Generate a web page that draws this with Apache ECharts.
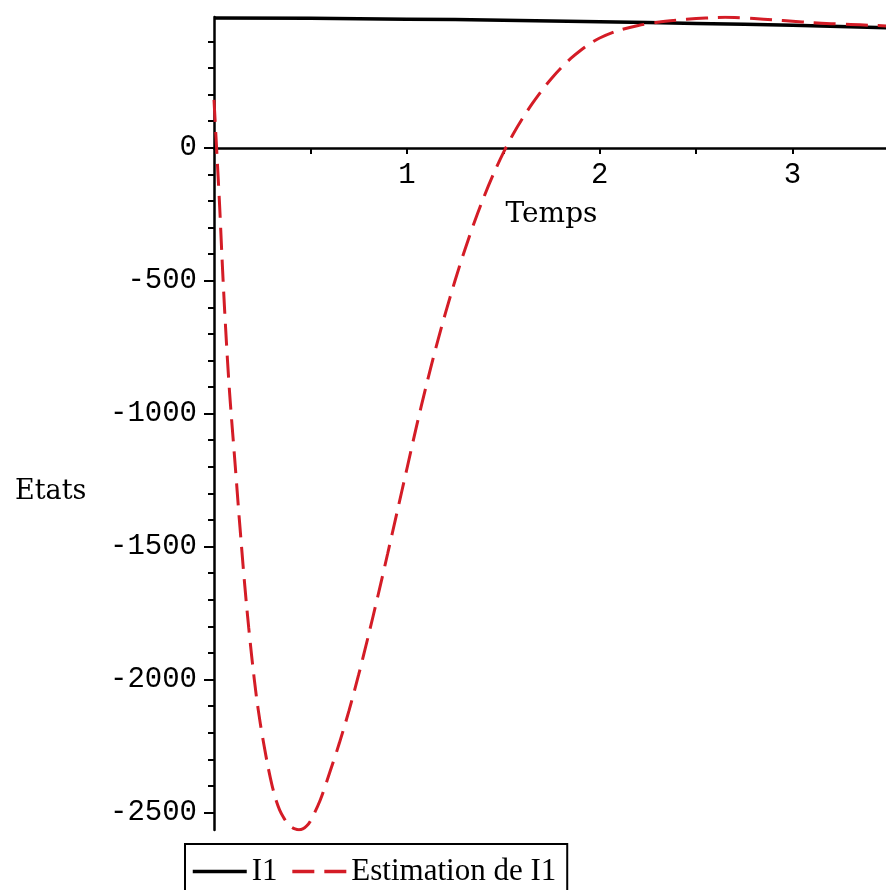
<!DOCTYPE html>
<html>
<head>
<meta charset="utf-8">
<script src="https://cdn.jsdelivr.net/npm/echarts/dist/echarts.min.js"></script>
<style>html,body{margin:0;padding:0;background:#fff;}#c{width:886px;height:890px;}</style>
</head>
<body>
<div id="c"></div>
<script>
// Values
var trueTimes = [0, 0.5, 1, 1.5, 2, 2.5, 3, 3.5];
var trueValues = [488, 487, 484, 480, 474, 468, 461, 451];

var estTimes = [0, 0.01, 0.02, 0.03, 0.04, 0.05, 0.06, 0.07, 0.08, 0.09, 0.10, 0.11, 0.12, 0.13, 0.14, 0.15, 0.16, 0.17, 0.18, 0.19, 0.20, 0.22, 0.24, 0.26, 0.28, 0.30, 0.32, 0.34, 0.36, 0.38, 0.40, 0.42, 0.44, 0.46, 0.48, 0.50, 0.55, 0.60, 0.65, 0.70, 0.75, 0.80, 0.85, 0.90, 0.95, 1.00, 1.05, 1.10, 1.15, 1.20, 1.25, 1.30, 1.35, 1.40, 1.45, 1.50, 1.55, 1.60, 1.65, 1.70, 1.75, 1.80, 1.85, 1.90, 1.95, 2.00, 2.10, 2.20, 2.30, 2.40, 2.50, 2.60, 2.65, 2.70, 2.80, 2.90, 3.00, 3.10, 3.20, 3.30, 3.40, 3.50];
var estValues = [180, 45, -90, -230, -390, -540, -675, -800, -912, -1010, -1102, -1195, -1290, -1385, -1475, -1565, -1650, -1730, -1805, -1875, -1943, -2065, -2165, -2250, -2328, -2395, -2450, -2490, -2518, -2540, -2554, -2562, -2565, -2562, -2551, -2532, -2455, -2350, -2239, -2117, -1982, -1837, -1685, -1528, -1368, -1208, -1048, -896, -754, -622, -499, -385, -280, -184, -97, -19, 50, 111, 166, 216, 261, 301, 336, 366, 392, 413, 442, 460, 472, 480, 486, 490, 491, 490, 486, 481, 476, 471, 467, 464, 461, 458];

var yMajor = [0, -500, -1000, -1500, -2000, -2500];
var yMinor = [400, 300, 200, 100, -100, -200, -300, -400, -600, -700, -800, -900, -1100, -1200, -1300, -1400, -1600, -1700, -1800, -1900, -2100, -2200, -2300, -2400];
var xTicks = [0.5, 1, 1.5, 2, 2.5, 3, 3.5];
var xLabels = [1, 2, 3];

var seriesNames = ['I1', 'Estimation de I1'];
var xName = 'Temps';
var yName = 'Etats';

function pairs(xs, ys) { return xs.map(function (x, i) { return [x, ys[i]]; }); }

var Y_MIN = -2566, Y_MAX = 492;
var chart = echarts.init(document.getElementById('c'), null, {renderer: 'canvas'});
var labelFont = {fontFamily: 'Liberation Mono', fontSize: 29, color: '#000'};
var plain = function (v) { return String(v); };
chart.setOption({
  animation: false,
  backgroundColor: '#fff',
  grid: {left: 214, right: -3, top: 17, bottom: 60, containLabel: false, outerBoundsMode: 'none'},
  xAxis: {
    type: 'value', min: 0, max: 3.5, position: 'bottom', offset: -682,
    name: xName, nameLocation: 'middle', nameGap: 53,
    nameTextStyle: {fontFamily: 'DejaVu Serif', fontSize: 28, color: '#000'},
    axisLine: {onZero: false, lineStyle: {color: '#000', width: 2.5}},
    axisTick: {show: true, length: 6, lineStyle: {color: '#000', width: 2}, customValues: xTicks},
    axisLabel: Object.assign({margin: 13, customValues: xLabels, formatter: plain}, labelFont),
    splitLine: {show: false}
  },
  yAxis: [{
    type: 'value', min: Y_MIN, max: Y_MAX,
    axisLine: {show: true, onZero: false, lineStyle: {color: '#000', width: 2.5}},
    axisTick: {show: true, length: 10, lineStyle: {color: '#000', width: 2}, customValues: yMajor},
    axisLabel: Object.assign({margin: 17, customValues: yMajor, formatter: plain}, labelFont),
    splitLine: {show: false}
  }, {
    type: 'value', min: Y_MIN, max: Y_MAX, position: 'left',
    axisLine: {show: false},
    axisTick: {show: true, length: 6, lineStyle: {color: '#000', width: 2}, customValues: yMinor},
    axisLabel: {show: false},
    splitLine: {show: false}
  }],
  legend: {
    left: 185, top: 844,
    data: [
      {name: seriesNames[0], itemStyle: {opacity: 0}, lineStyle: {color: '#000', width: 3.5, type: 'solid'}},
      {name: seriesNames[1], itemStyle: {opacity: 0}, lineStyle: {color: '#d41c26', width: 3.5, type: [22, 10]}}
    ],
    itemWidth: 54, itemHeight: 14, itemGap: 13,
    padding: [12, 11, 14, 6],
    borderColor: '#000', borderWidth: 2, backgroundColor: '#fff',
    textStyle: {fontFamily: 'Liberation Serif', fontSize: 31, color: '#000'}
  },
  graphic: [{
    type: 'text', left: 15, top: 478,
    style: {text: yName, font: '27px "DejaVu Serif"', fill: '#000'}
  }],
  series: [{
    name: seriesNames[0], type: 'line', symbol: 'none', smooth: true,
    data: pairs(trueTimes, trueValues),
    lineStyle: {color: '#000', width: 3.5}, itemStyle: {color: '#000'}
  }, {
    name: seriesNames[1], type: 'line', symbol: 'none', smooth: 0.3,
    data: pairs(estTimes, estValues),
    lineStyle: {color: '#d41c26', width: 3, type: [22, 10]}, itemStyle: {color: '#d41c26'}
  }]
});
</script>
</body>
</html>
